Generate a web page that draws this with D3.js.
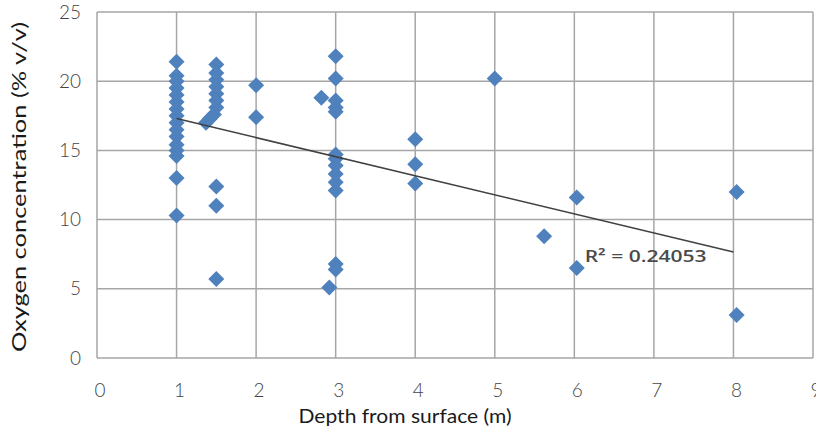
<!DOCTYPE html>
<html lang="en">

<head>
    <meta charset="UTF-8">
    <title>Oxygen vs depth</title>
    <script src="https://d3js.org/d3.v7.min.js"></script>
    <style type="text/css">
        body {
            margin: 0;
            background: #fff;
        }

        .tick-label {
            font-family: Lato, 'Open Sans', sans-serif;
            font-weight: 300;
            font-size: 19px;
            fill: #444;
        }

        .axis-title {
            font-family: Lato, 'Open Sans', sans-serif;
            font-size: 20px;
            fill: #1a1a1a;
        }
    </style>
</head>

<body>
    <div id="chartArea"></div>
    <script type="text/javascript">
        // depth (m) and oxygen (% v/v)
        var depth = [
            1, 1, 1, 1, 1, 1, 1, 1, 1, 1, 1, 1, 1, 1, 1, 1,
            1.5, 1.5, 1.5, 1.5, 1.5, 1.5, 1.5, 1.47, 1.42, 1.37, 1.5, 1.5, 1.5,
            2, 2,
            3, 3, 2.82, 3, 3, 3, 3, 3, 3, 3, 3, 3, 3, 3, 2.92,
            4, 4, 4,
            5, 5.62, 6.03, 6.03, 8.04, 8.04
        ];
        var oxygen = [
            21.4, 20.4, 20.0, 19.5, 19.0, 18.5, 18.0, 17.5, 17.0, 16.5, 16.0, 15.4, 15.0, 14.6, 13.0, 10.3,
            21.2, 20.6, 20.1, 19.6, 19.1, 18.6, 18.1, 17.6, 17.3, 17.0, 12.4, 11.0, 5.7,
            19.7, 17.4,
            21.8, 20.2, 18.8, 18.6, 18.1, 17.8, 14.7, 14.4, 13.9, 13.3, 12.7, 12.1, 6.8, 6.4, 5.1,
            15.8, 14.0, 12.6,
            20.2, 8.8, 11.6, 6.5, 12.0, 3.1
        ];
        var trendX = [1, 8];
        var trendY = [17.3, 7.66];
        var rSquared = 'R\u00B2 = 0.24053';
        var xTicks = [0, 1, 2, 3, 4, 5, 6, 7, 8, 9];
        var yTicks = [0, 5, 10, 15, 20, 25];

        var W = 816, H = 434;
        var margin = { top: 12, right: 3, bottom: 76, left: 97 };
        var w = W - margin.left - margin.right,
            h = H - margin.top - margin.bottom;

        var svg = d3.select('#chartArea').append('svg')
            .attr('width', W)
            .attr('height', H);
        var g = svg.append('g')
            .attr('transform', 'translate(' + margin.left + ',' + margin.top + ')');

        var xScale = d3.scaleLinear().domain([0, 9]).range([0, w]);
        var yScale = d3.scaleLinear().domain([0, 25]).range([h, 0]);

        // grid
        g.selectAll('.vgrid').data(xTicks).enter().append('line')
            .attr('x1', function (d) { return xScale(d); })
            .attr('x2', function (d) { return xScale(d); })
            .attr('y1', 0).attr('y2', h)
            .attr('stroke', '#a6a6a6').attr('stroke-width', 1.5);
        g.selectAll('.hgrid').data(yTicks).enter().append('line')
            .attr('y1', function (d) { return yScale(d); })
            .attr('y2', function (d) { return yScale(d); })
            .attr('x1', 0).attr('x2', w)
            .attr('stroke', '#a6a6a6').attr('stroke-width', 1.5);

        // tick labels
        g.selectAll('.xl').data(xTicks).enter().append('text')
            .attr('class', 'tick-label')
            .attr('x', function (d) { return xScale(d) + 3; })
            .attr('y', h + 39)
            .attr('text-anchor', 'middle')
            .text(function (d) { return d; });
        g.selectAll('.yl').data(yTicks).enter().append('text')
            .attr('class', 'tick-label')
            .attr('x', -16)
            .attr('y', function (d) { return yScale(d); })
            .attr('dy', '0.35em')
            .attr('text-anchor', 'end')
            .text(function (d) { return d; });

        // points: square diamonds like the spreadsheet marker
        var r = 8;
        var diamond = 'M0,' + (-r) + 'L' + r + ',0L0,' + r + 'L' + (-r) + ',0Z';
        var pts = d3.range(depth.length);
        g.selectAll('.pt').data(pts).enter().append('path')
            .attr('d', diamond)
            .attr('transform', function (i) {
                return 'translate(' + xScale(depth[i]) + ',' + yScale(oxygen[i]) + ')';
            })
            .attr('fill', '#4f81bd');

        // trend line
        g.append('line')
            .attr('x1', xScale(trendX[0])).attr('y1', yScale(trendY[0]))
            .attr('x2', xScale(trendX[1])).attr('y2', yScale(trendY[1]))
            .attr('stroke', '#404040').attr('stroke-width', 1.5);

        g.append('text')
            .attr('x', xScale(6.13)).attr('y', yScale(6.94))
            .attr('font-family', "'Open Sans', sans-serif")
            .attr('font-size', 17)
            .attr('font-weight', 600)
            .attr('fill', '#4a4a4a')
            .attr('textLength', 122)
            .attr('lengthAdjust', 'spacingAndGlyphs')
            .text(rSquared);

        // axis titles
        svg.append('text')
            .attr('class', 'axis-title')
            .attr('x', 405)
            .attr('y', 423)
            .attr('text-anchor', 'middle')
            .attr('textLength', 213)
            .attr('lengthAdjust', 'spacingAndGlyphs')
            .text('Depth from surface (m)');
        svg.append('text')
            .attr('class', 'axis-title')
            .attr('transform', 'translate(26,187) rotate(-90)')
            .attr('text-anchor', 'middle')
            .attr('textLength', 330)
            .attr('lengthAdjust', 'spacingAndGlyphs')
            .text('Oxygen concentration (% v/v)');
    </script>
</body>

</html>
